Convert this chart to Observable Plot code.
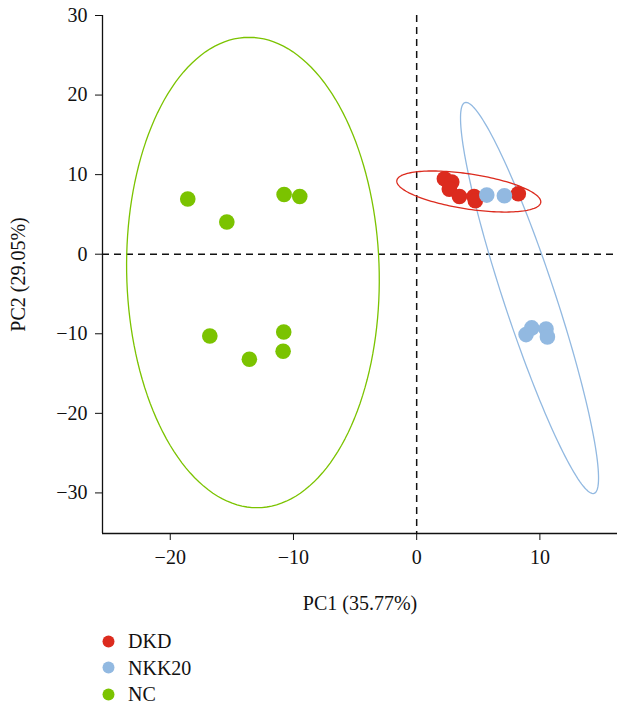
<!DOCTYPE html>
<html>
<head>
<meta charset="utf-8">
<script src="https://cdn.jsdelivr.net/npm/d3@7"></script>
<script src="https://cdn.jsdelivr.net/npm/@observablehq/plot@0.6"></script>
<style>
  html, body { margin: 0; padding: 0; background: #fff; }
  #chart svg { display: block; }
  #chart svg text { font-family: "Liberation Serif", "Times New Roman", serif !important; font-size: 20px !important; }
  .legend { font-family: "Liberation Serif", "Times New Roman", serif; font-size: 20px; color: #111; padding-top: 8px; }
  .legend .row { height: 26.5px; line-height: 26.5px; display: flex; align-items: center; }
  .legend svg { margin-left: 102px; margin-right: 13px; }
</style>
</head>
<body>
<div id="chart"></div>
<div class="legend" id="legend"></div>
<script>
// Groups and colours
const groups = ["DKD", "NKK20", "NC"];
const groupColors = ["#DC2B1E", "#92B9E1", "#7BC300"];

// Sample scores (PC1, PC2) by group
const dkdPC1 = [2.25, 2.85, 2.65, 3.47, 4.66, 4.76, 8.25];
const dkdPC2 = [9.48, 9.06, 8.18, 7.25, 7.25, 6.72, 7.59];
const nkkPC1 = [5.69, 7.12, 8.88, 9.34, 10.50, 10.61];
const nkkPC2 = [7.43, 7.34, -10.10, -9.26, -9.39, -10.39];
const ncPC1 = [-18.58, -15.41, -10.76, -9.49, -16.79, -13.58, -10.79, -10.84];
const ncPC2 = [6.93, 4.04, 7.51, 7.25, -10.27, -13.20, -9.77, -12.20];

// Confidence ellipses: center and two conjugate semi-diameter vectors (data units)
const ellipseGroup = ["NC", "NKK20", "DKD"];
const ellipseCX = [-13.29, 9.16, 4.23];
const ellipseCY = [-2.30, -5.50, 7.88];
const ellipseUX = [-0.32, 5.24, 5.84];
const ellipseUY = [29.56, -24.56, -1.38];
const ellipseVX = [10.25, 1.98, 0.216];
const ellipseVY = [0, 1.00, 2.18];

// Axis ticks and labels
const xTicks = [-20, -10, 0, 10];
const yTicks = [-30, -20, -10, 0, 10, 20, 30];
const xLabel = "PC1 (35.77%)";
const yLabel = "PC2 (29.05%)";

const points = [
  ...dkdPC1.map((x, i) => ({group: "DKD", x, y: dkdPC2[i]})),
  ...nkkPC1.map((x, i) => ({group: "NKK20", x, y: nkkPC2[i]})),
  ...ncPC1.map((x, i) => ({group: "NC", x, y: ncPC2[i]}))
];
const ncPts = points.filter(d => d.group === "NC");
const dkdPts = points.filter(d => d.group === "DKD");
const nkkPts = points.filter(d => d.group === "NKK20");

const ellipsePts = [];
ellipseGroup.forEach((g, k) => {
  const n = 160;
  for (let i = 0; i <= n; i++) {
    const t = (2 * Math.PI * i) / n;
    ellipsePts.push({
      group: g,
      x: ellipseCX[k] + ellipseUX[k] * Math.cos(t) + ellipseVX[k] * Math.sin(t),
      y: ellipseCY[k] + ellipseUY[k] * Math.cos(t) + ellipseVY[k] * Math.sin(t)
    });
  }
});

const color = {domain: groups, range: groupColors};
const font = "\"Liberation Serif\", \"Times New Roman\", serif";

const chart = Plot.plot({
  width: 618,
  height: 620,
  marginLeft: 102,
  marginRight: 1,
  marginTop: 15,
  marginBottom: 87,
  style: {fontFamily: font, fontSize: "20px", color: "#111", background: "#fff"},
  x: {domain: [-25.5, 16.3]},
  y: {domain: [-35.1, 30]},
  color,
  marks: [
    Plot.ruleX([0], {stroke: "#111", strokeWidth: 1.5, strokeDasharray: "7,5"}),
    Plot.ruleY([0], {stroke: "#111", strokeWidth: 1.5, strokeDasharray: "7,5"}),
    Plot.line(ellipsePts, {x: "x", y: "y", z: "group", stroke: "group", strokeWidth: 1.3, curve: "linear"}),
    Plot.dot(ncPts, {x: "x", y: "y", fill: "group", r: 7.8}),
    Plot.dot(dkdPts, {x: "x", y: "y", fill: "group", r: 7.8}),
    Plot.dot(nkkPts, {x: "x", y: "y", fill: "group", r: 7.8}),
    Plot.ruleX([-25.5], {stroke: "#111", strokeWidth: 1.3}),
    Plot.ruleY([-35.1], {stroke: "#111", strokeWidth: 1.3}),
    Plot.axisX(xTicks, {tickSize: 7, tickPadding: 9, label: null, stroke: "#111", fill: "#111", fontSize: 20}),
    Plot.axisY(yTicks, {tickSize: 7, tickPadding: 8, label: null, stroke: "#111", fill: "#111", fontSize: 20}),
    Plot.text([xLabel], {frameAnchor: "bottom", lineAnchor: "middle", textAnchor: "middle", dy: 70, fontSize: 20, fill: "#111"}),
    Plot.text([yLabel], {frameAnchor: "left", lineAnchor: "middle", textAnchor: "middle", dx: -84, rotate: -90, fontSize: 20, fill: "#111"})
  ]
});
document.getElementById("chart").appendChild(chart);

const legend = document.getElementById("legend");
groups.forEach((g, i) => {
  const row = document.createElement("div");
  row.className = "row";
  row.innerHTML = `<svg width="13" height="13"><circle cx="6.5" cy="6.5" r="6" fill="${groupColors[i]}"></circle></svg><span>${g}</span>`;
  legend.appendChild(row);
});
</script>
</body>
</html>
